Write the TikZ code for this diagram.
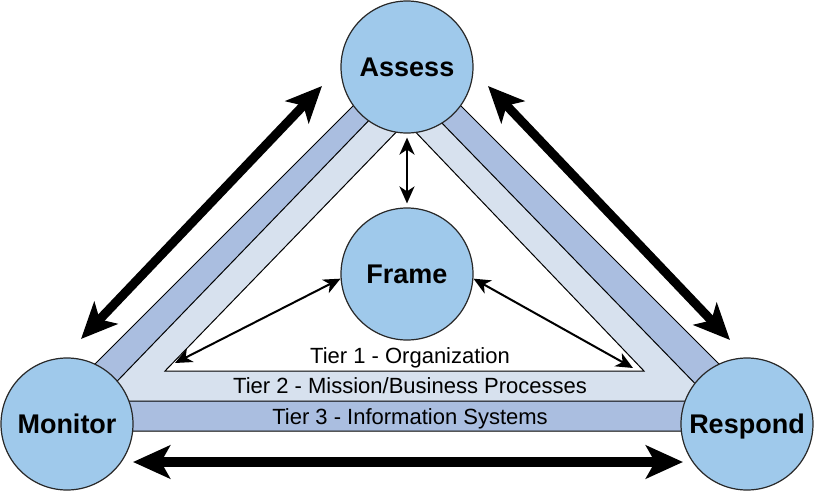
\documentclass[tikz,border=0pt]{standalone}
\usepackage{fontspec}
\setmainfont{Liberation Sans}
\usetikzlibrary{arrows.meta}
\definecolor{circfill}{RGB}{159,201,235}
\definecolor{darkband}{RGB}{170,190,224}
\definecolor{lightband}{RGB}{215,225,238}
\definecolor{circline}{RGB}{40,40,40}
\begin{document}
\begin{tikzpicture}[x=1pt,y=-1pt,
  band/.style={draw=black,line width=1pt,line join=miter},
  stage/.style={circle,draw=circline,line width=1.2pt,fill=circfill,minimum size=132pt,inner sep=0pt,
    font=\fontsize{27}{32}\selectfont\bfseries,text height=19.3pt,text depth=0pt},
  tier/.style={anchor=base,font=\fontsize{22}{26}\selectfont,inner sep=0pt},
  bighead/.style={Stealth[length=36pt,width=32pt,inset=9pt]},
  smallhead/.style={Stealth[length=17pt,width=15pt,inset=5pt]},
  bigarrow/.style={line width=9pt,{Stealth[length=36pt,width=32pt,inset=9pt]}-{Stealth[length=36pt,width=32pt,inset=9pt]}},
  thinarrow/.style={line width=2pt,{Stealth[length=17pt,width=15pt,inset=5pt]}-{Stealth[length=17pt,width=15pt,inset=5pt]}}
]
\useasboundingbox (0,0) rectangle (815,491);

% tier bands
\draw[band,fill=darkband] (28,431) -- (407,52) -- (786,431) -- cycle;
\draw[band,fill=lightband] (98,401) -- (404,84) -- (712,401) -- cycle;
\draw[band,fill=white] (165,371) -- (406,122) -- (644,371) -- cycle;

\node[tier] (t1) at (410,363) {Tier 1 - Organization};
\node[tier] (t2) at (410,393) {Tier 2 - Mission/Business Processes};
\node[tier] (t3) at (410,424) {Tier 3 - Information Systems};

% stages
\node[stage] (assess) at (407,67) {Assess};
\node[stage] (frame) at (407,274) {Frame};
\node[stage] (monitor) at (67,424) {Monitor};
\node[stage] (respond) at (747,424) {Respond};

% big arrows
\coordinate (lmA) at (81,339);
\coordinate (lmB) at (322,86);
\coordinate (rmA) at (488,86);
\coordinate (rmB) at (730,340);
\coordinate (bmA) at (133,462);
\coordinate (bmB) at (683,462);
\draw[bigarrow] (lmA) -- (lmB);
\draw[bigarrow] (rmA) -- (rmB);
\draw[line width=10pt,{Stealth[length=37pt,width=33pt,inset=9pt]}-{Stealth[length=37pt,width=33pt,inset=9pt]}] (bmA) -- (bmB);

% thin arrows
\coordinate (cl) at (175,363);
\coordinate (cr) at (633,368);
\draw[thinarrow,shorten <=4pt,shorten >=4pt] (assess) -- (frame);
\draw[thinarrow] (cl) -- (frame.184);
\draw[thinarrow] (frame.356) -- (cr);
\end{tikzpicture}
\end{document}
